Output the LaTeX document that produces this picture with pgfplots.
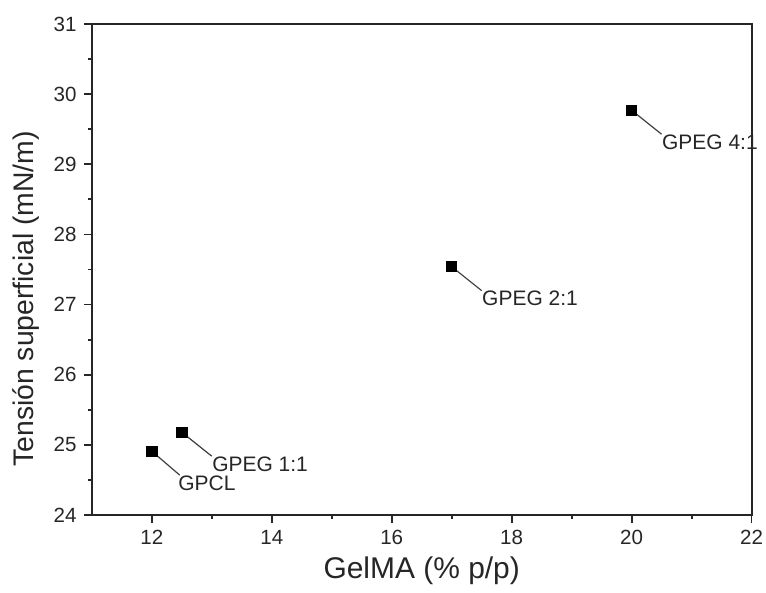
\documentclass[border=0pt]{standalone}
\usepackage{pgfplots}
\pgfplotsset{compat=1.18}
\usepackage{fontspec}
\setmainfont{Liberation Sans}
\begin{document}
\begin{tikzpicture}[
  annot/.style={black!75, line width=0.6pt},
  annotlab/.style={anchor=north west, inner sep=0pt, font=\fontsize{10.5}{12}\selectfont, text=black!85},
]
\begin{axis}[
  name=ax,
  scale only axis,
  width=330.5pt, height=246pt,
  xmin=11, xmax=22, ymin=24, ymax=31,
  xtick={12,14,16,18,20,22},
  ytick={24,25,26,27,28,29,30,31},
  minor x tick num=1, minor y tick num=1,
  tick align=outside,
  xtick pos=bottom, ytick pos=left,
  major tick length=4pt, minor tick length=2pt,
  axis line style={line width=1pt, black!85},
  every tick/.style={line width=0.9pt, black!85},
  tick label style={font=\fontsize{10.3}{12}\selectfont, text=black!85, inner sep=1.5pt},
  xticklabel style={yshift=-2pt},
  yticklabel style={xshift=-2pt},
  /pgf/number format/assume math mode=true,
  xlabel={GelMA (\% p/p)},
  ylabel={Tensión superficial (mN/m)},
  xlabel style={font=\fontsize{15}{17}\selectfont, text=black!85, yshift=-1pt},
  ylabel style={font=\fontsize{14.2}{16}\selectfont, text=black!85, at={(ticklabel cs:0.44)}, yshift=2pt},
  clip=false,
]
\addplot[only marks, mark=square*, mark size=2.6pt, black] coordinates {
  (12,24.91) (12.5,25.18) (17,27.54) (20,29.77)
};
\draw[annot] (axis cs:12,24.91) -- ++(14pt,-12pt) node[annotlab, xshift=-1pt] {GPCL};
\draw[annot] (axis cs:12.5,25.18) -- ++(15pt,-12pt) node[annotlab] {GPEG 1:1};
\draw[annot] (axis cs:17,27.54) -- ++(15pt,-12pt) node[annotlab] {GPEG 2:1};
\draw[annot] (axis cs:20,29.77) -- ++(15pt,-12pt) node[annotlab] {GPEG 4:1};
\end{axis}
\path (ax.south west) ++(-46pt,-39pt) coordinate (bbA);
\path (ax.north east) ++(6.5pt,12pt) coordinate (bbB);
\end{tikzpicture}
\end{document}
